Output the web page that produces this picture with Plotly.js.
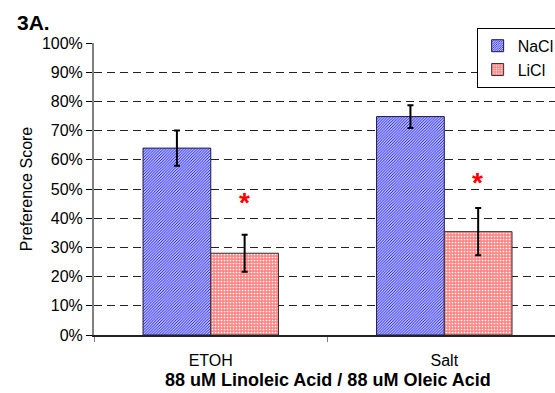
<!DOCTYPE html>
<html>
<head>
<meta charset="utf-8">
<script src="https://cdn.plot.ly/plotly-3.0.1.min.js"></script>
<style>html,body{margin:0;padding:0;background:#fff}#chart{width:555px;height:393px}</style>
</head>
<body>
<div id="chart"></div>
<script>
// ---- data ----
const categories = ['ETOH', 'Salt'];
const seriesNames = ['NaCl', 'LiCl'];
const naclValues = [64.0, 74.8];
const naclErrors = [6.0, 3.9];
const liclValues = [28.0, 35.4];
const liclErrors = [6.3, 8.1];
const starValues = [46.3, 53.4];   // significance markers above LiCl bars
const yTickValues = [0, 10, 20, 30, 40, 50, 60, 70, 80, 90, 100];
const yTickLabels = ['0%', '10%', '20%', '30%', '40%', '50%', '60%', '70%', '80%', '90%', '100%'];

const FONT = '"Liberation Sans", Arial, sans-serif';
const barPx = 33.4; // half-group offset in pixels for LiCl bar centre

const traces = [
  {
    type: 'bar', name: seriesNames[0], x: categories, y: naclValues,
    error_y: {type: 'data', array: naclErrors, visible: true, color: '#000', thickness: 2, width: 3},
    marker: {color: '#6a6aff', line: {color: '#1a1a40', width: 1},
      pattern: {shape: '/', fgcolor: '#1a1aff', bgcolor: '#ffffff', size: 2, solidity: 0.55}}
  },
  {
    type: 'bar', name: seriesNames[1], x: categories, y: liclValues,
    error_y: {type: 'data', array: liclErrors, visible: true, color: '#000', thickness: 2, width: 3},
    marker: {color: '#ff8c8c', line: {color: '#333', width: 1},
      pattern: {shape: '.', fgcolor: '#ffffff', bgcolor: '#ff8585', size: 3, solidity: 0.25}}
  }
];

const annotations = categories.map((c, i) => ({
  x: c, y: starValues[i], xref: 'x', yref: 'y', xshift: barPx, yshift: -3,
  text: '<b>*</b>', showarrow: false, font: {family: FONT, size: 28, color: '#ff0000'},
  xanchor: 'center', yanchor: 'middle'
}));
annotations.push({
  x: 0.5, xref: 'x', y: -0.155, yref: 'paper', showarrow: false,
  text: '<b>88 uM Linoleic Acid / 88 uM Oleic Acid</b>',
  font: {family: FONT, size: 18, color: '#000'}, xanchor: 'center', yanchor: 'middle'
});

const layout = {
  width: 555, height: 393,
  margin: {l: 94, r: 0, t: 43, b: 58, autoexpand: false},
  paper_bgcolor: '#fff', plot_bgcolor: '#fff',
  font: {family: FONT, size: 16, color: '#000'},
  title: {text: '<b>3A.</b>', xref: 'container', yref: 'container', x: 17/555, xanchor: 'left',
    y: 1 - 23/393, yanchor: 'middle', font: {family: FONT, size: 21, color: '#000'}},
  barmode: 'group', bargap: 0.42, bargroupgap: 0,
  showlegend: true,
  legend: {x: 0.83, xanchor: 'left', y: 1.052, yanchor: 'top', bgcolor: '#fff',
    bordercolor: '#000', borderwidth: 1, font: {family: FONT, size: 16, color: '#000'},
    tracegroupgap: 0, itemwidth: 30},
  xaxis: {type: 'category', range: [-0.5, 1.474], tickson: 'boundaries', ticks: 'outside',
    ticklen: 5, tickcolor: '#808080', showline: true, linecolor: '#222', linewidth: 1.5,
    showgrid: false, zeroline: false, tickfont: {family: FONT, size: 16}, ticklabelstandoff: 10,
    fixedrange: true},
  yaxis: {range: [0, 100], tickmode: 'array', tickvals: yTickValues, ticktext: yTickLabels,
    ticks: 'outside', ticklen: 6,
    tickcolor: '#000', showline: true, linecolor: '#808080', linewidth: 2,
    showgrid: true, gridcolor: '#222', gridwidth: 1, griddash: '8px,5px', zeroline: false,
    tickfont: {family: FONT, size: 16},
    title: {text: 'Preference Score', font: {family: FONT, size: 16}, standoff: 5}},
  annotations: annotations
};

Plotly.newPlot('chart', traces, layout, {displayModeBar: false, staticPlot: true});
</script>
</body>
</html>
